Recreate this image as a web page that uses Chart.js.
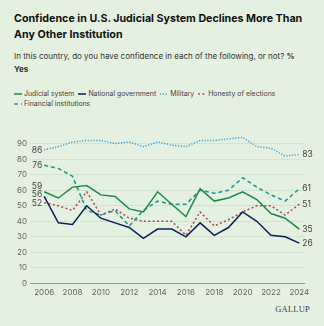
<!DOCTYPE html>
<html>
<head>
<meta charset="utf-8">
<script src="https://cdn.jsdelivr.net/npm/chart.js@4"></script>
<style>
  html, body { margin: 0; padding: 0; }
  body { width: 324px; height: 326px; background: #e4f1e0; position: relative; overflow: hidden; font-family: Inter, "Noto Sans", sans-serif; }
  #title { position: absolute; left: 14px; top: 11px; font-size: 10.7px; font-weight: 700; line-height: 15.7px; color: #111; white-space: nowrap; }
  #sub { position: absolute; left: 14px; top: 50px; font-size: 8px; line-height: 12.7px; color: #333; white-space: nowrap; }
  #legend { position: absolute; left: 14px; top: 89px; font-size: 6.9px; line-height: 10px; color: #444; }
  .row { display: flex; align-items: center; white-space: nowrap; height: 10px; }
  .item { display: inline-flex; align-items: center; margin-right: 4px; }
  .item svg { margin-right: 2px; }
  #wrap { position: absolute; left: 0; top: 128px; width: 324px; height: 175px; }
  #brand { position: absolute; right: 14px; top: 304px; font-family: "Liberation Serif", "DejaVu Serif", serif; font-size: 8.5px; color: #444; letter-spacing: 0.2px; }
</style>
</head>
<body>
<div id="title">Confidence in U.S. Judicial System Declines More Than<br>Any Other Institution</div>
<div id="sub">In this country, do you have confidence in each of the following, or not? <b>%</b><br><b>Yes</b></div>
<div id="legend"></div>
<div id="wrap"><canvas id="chart"></canvas></div>
<div id="brand">GALLUP</div>
<script>
// values, one per year 2006-2024
const years = [2006, 2007, 2008, 2009, 2010, 2011, 2012, 2013, 2014, 2015,
               2016, 2017, 2018, 2019, 2020, 2021, 2022, 2023, 2024];
const judicial  = [59, 55, 62, 63, 57, 56, 48, 46, 59, 51, 43, 61, 53, 55, 59, 54, 45, 42, 35];
const national  = [56, 39, 38, 50, 42, 39, 36, 29, 35, 35, 30, 39, 31, 36, 46, 40, 31, 30, 26];
const military  = [86, 88, 91, 92, 92, 90, 91, 88, 91, 89, 88, 92, 92, 93, 94, 88, 87, 82, 83];
const elections = [52, 50, 47, 59, 44, 48, 42, 40, 40, 40, 31, 46, 37, 41, 46, 50, 50, 44, 51];
const financial = [76, 74, 69, 47, 44, 47, 37, 47, 53, 51, 51, 60, 58, 60, 68, 62, 57, 53, 61];

const xTicks = [2006, 2008, 2010, 2012, 2014, 2016, 2018, 2020, 2022, 2024];
const yTicks = [0, 10, 20, 30, 40, 50, 60, 70, 80, 90];

const series = [
  { label: 'Judicial system',       data: judicial,  color: '#1d8a4b', dash: [] },
  { label: 'National government',   data: national,  color: '#0d1f5e', dash: [] },
  { label: 'Military',              data: military,  color: '#3ea2d6', dash: [1.2, 1.6] },
  { label: 'Honesty of elections',  data: elections, color: '#a9475a', dash: [2, 2.4] },
  { label: 'Financial institutions', data: financial, color: '#17998c', dash: [4, 3] },
];

// ─── legend (html, two rows like the original) ───────────────────────────────

const legend = document.getElementById('legend');
[[0, 1, 2, 3], [4]].forEach(idx => {
  const row = document.createElement('div');
  row.className = 'row';
  idx.forEach(i => {
    const s = series[i];
    const item = document.createElement('span');
    item.className = 'item';
    const dash = s.dash.length ? `stroke-dasharray="${s.dash.join(',')}"` : '';
    item.innerHTML = `<svg width="8" height="4"><line x1="0" y1="2" x2="8" y2="2" stroke="${s.color}" stroke-width="1.5" ${dash}/></svg>${s.label}`;
    row.appendChild(item);
  });
  legend.appendChild(row);
});

// ─── end labels ──────────────────────────────────────────────────────────────

const endLabels = {
  id: 'endLabels',
  afterDatasetsDraw(chart) {
    const ctx = chart.ctx;
    const metas = series.map((s, i) => chart.getDatasetMeta(i));
    ctx.save();
    ctx.font = '8.5px Inter, "Noto Sans", sans-serif';
    ctx.fillStyle = '#444';
    ctx.textBaseline = 'middle';

    // left side: push overlapping labels upward
    const left = metas.map((m, i) => ({ v: series[i].data[0], x: m.data[0].x, y: m.data[0].y }))
      .sort((a, b) => b.y - a.y);
    for (let i = 1; i < left.length; i++) {
      if (left[i - 1].y - left[i].y < 8.5) left[i].y = left[i - 1].y - 8.5;
    }
    ctx.textAlign = 'right';
    left.forEach(l => ctx.fillText(String(l.v), l.x - 2, l.y + 0.5));

    ctx.textAlign = 'left';
    metas.forEach((m, i) => {
      const d = series[i].data;
      const p = m.data[m.data.length - 1];
      ctx.fillText(String(d[d.length - 1]), p.x + 3, p.y);
    });
    ctx.restore();
  },
};

new Chart(document.getElementById('chart'), {
  type: 'line',
  data: {
    datasets: series.map(s => ({
      label: s.label,
      data: s.data.map((v, i) => ({ x: years[i], y: v })),
      borderColor: s.color,
      borderWidth: 1.5,
      borderDash: s.dash,
      pointRadius: 0,
      tension: 0,
      fill: false,
    })),
  },
  options: {
    responsive: true,
    maintainAspectRatio: false,
    animation: false,
    layout: { padding: { top: 5, right: 19, left: 0, bottom: 0 } },
    plugins: { legend: { display: false }, tooltip: { enabled: false } },
    scales: {
      x: {
        type: 'linear',
        min: 2005,
        max: 2024.4,
        afterBuildTicks: scale => { scale.ticks = xTicks.map(v => ({ value: v })); },
        afterFit: scale => { scale.height = 19.5; },
        grid: { display: false, drawTicks: false },
        border: { display: false },
        ticks: {
          padding: 4,
          color: '#666',
          font: { size: 8, family: 'Inter, "Noto Sans", sans-serif' },
          maxRotation: 0,
          autoSkip: false,
          callback: v => String(v),
        },
      },
      y: {
        min: 0,
        max: 95,
        afterBuildTicks: scale => { scale.ticks = yTicks.map(v => ({ value: v })); },
        afterFit: scale => { scale.width = 30; },
        grid: {
          drawTicks: false,
          color: c => (c.tick && c.tick.value === 0 ? '#8e9e8b' : '#d2e3cf'),
          lineWidth: 1,
        },
        border: { display: false },
        ticks: {
          padding: 3,
          color: '#666',
          font: { size: 8, family: 'Inter, "Noto Sans", sans-serif' },
        },
      },
    },
  },
  plugins: [endLabels],
});
</script>
</body>
</html>
